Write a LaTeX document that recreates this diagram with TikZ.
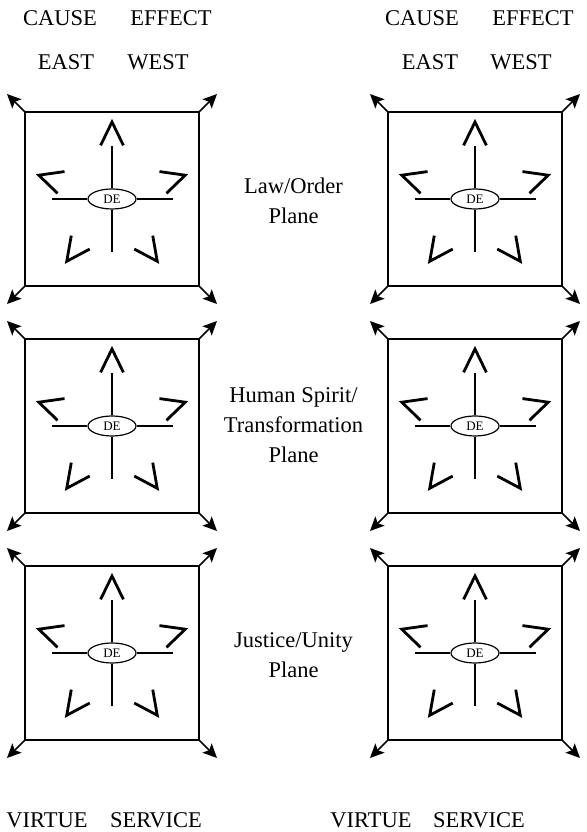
\documentclass[tikz,border=0pt]{standalone}
\usepackage{fontspec}
\setmainfont{Liberation Serif}
\usetikzlibrary{arrows.meta, shapes.geometric, positioning}

\tikzset{
  box/.style={line width=1.6pt},
  corner/.style={line width=1.6pt, -{Stealth[length=14pt,width=13pt,inset=3pt]}},
  spoke/.style={line width=1.1pt},
  chevron/.style={line width=2.8pt},
  de/.style={ellipse, draw, line width=1.2pt, inner sep=0pt, minimum width=48pt,
    minimum height=20pt, font=\fontsize{13}{15}\selectfont},
  lbl/.style={font=\fontsize{22.5}{30}\selectfont, align=center, inner sep=0pt}
}

% one plane: name, centre x, centre y
\newcommand{\plane}[3]{%
  \node[de] (#1) at (#2,#3) {DE};
  \coordinate (#1nw) at (#2-87,#3+87);
  \coordinate (#1ne) at (#2+87,#3+87);
  \coordinate (#1sw) at (#2-87,#3-87);
  \coordinate (#1se) at (#2+87,#3-87);
  \draw[box] (#1nw) rectangle (#1se);
  \draw[corner] (#1nw) -- +(-18,18);
  \draw[corner] (#1ne) -- +(18,18);
  \draw[corner] (#1sw) -- +(-18,-18);
  \draw[corner] (#1se) -- +(18,-18);
  \coordinate (#1n) at (#2,#3+53);
  \coordinate (#1s) at (#2,#3-53);
  \coordinate (#1w) at (#2-60,#3);
  \coordinate (#1e) at (#2+61,#3);
  \draw[spoke] (#1) -- (#1n);
  \draw[spoke] (#1) -- (#1s);
  \draw[spoke] (#1) -- (#1w);
  \draw[spoke] (#1) -- (#1e);
  \foreach \a in {18,90,162,234,306}
    \draw[chevron,shift={(#2,#3)},rotate=\a] (53.6,11.4) -- (77,0) -- (53.6,-11.4);
}

\begin{document}
\begin{tikzpicture}[x=1pt,y=1pt]
\useasboundingbox (0,0) rectangle (586,832);

% top labels
\node[lbl,anchor=base] (cause1) at (60,806) {CAUSE};
\node[lbl,anchor=base] (effect1) at (171,806) {EFFECT};
\node[lbl,anchor=base] (east1) at (66,762) {EAST};
\node[lbl,anchor=base] (west1) at (158,762) {WEST};
\node[lbl,anchor=base] (cause2) at (422,806) {CAUSE};
\node[lbl,anchor=base] (effect2) at (533,806) {EFFECT};
\node[lbl,anchor=base] (east2) at (430,762) {EAST};
\node[lbl,anchor=base] (west2) at (521,762) {WEST};

% planes
\plane{de11}{112}{633}
\plane{de12}{475}{633}
\plane{de21}{112}{406}
\plane{de22}{475}{406}
\plane{de31}{112}{179}
\plane{de32}{475}{179}

\node[lbl] (law) at (293.5,631) {Law/Order\\Plane};
\node[lbl] (human) at (293.5,407) {Human Spirit/\\Transformation\\Plane};
\node[lbl] (justice) at (293.5,177) {Justice/Unity\\Plane};

% bottom labels
\node[lbl,anchor=base] (virtue1) at (47,5) {VIRTUE};
\node[lbl,anchor=base] (service1) at (156,5) {SERVICE};
\node[lbl,anchor=base] (virtue2) at (371,5) {VIRTUE};
\node[lbl,anchor=base] (service2) at (479,5) {SERVICE};
\end{tikzpicture}
\end{document}
